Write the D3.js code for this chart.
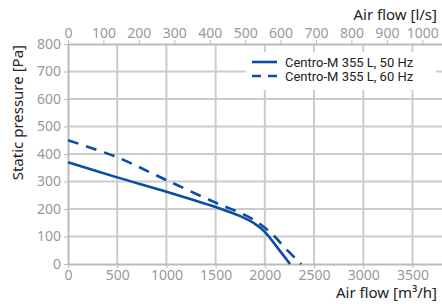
<!DOCTYPE html>
<html>
<head>
<meta charset="utf-8">
<script src="https://cdn.jsdelivr.net/npm/d3@7"></script>
<style>
  body { margin: 0; background: #fff; }
  text { font-family: "Noto Sans", sans-serif; }
</style>
</head>
<body>
<svg id="chart" width="442" height="304"></svg>
<script>
// values
var flowTicks = [0, 500, 1000, 1500, 2000, 2500, 3000, 3500];
var lsTicks = [0, 100, 200, 300, 400, 500, 600, 700, 800, 900, 1000];
var pressureTicks = [0, 100, 200, 300, 400, 500, 600, 700, 800];
var seriesNames = ["Centro-M 355 L, 50 Hz", "Centro-M 355 L, 60 Hz"];
var flow50 = [0, 500, 1000, 1500, 1750, 1900, 2000, 2120, 2256];
var press50 = [370, 315, 263, 207, 174, 146, 117, 63, 0];
var flow60 = [0, 500, 1000, 1500, 1800, 1900, 2000, 2100, 2220, 2370];
var press60 = [450, 388, 305, 223, 178, 158, 132, 100, 53, 0];

var svg = d3.select("#chart");
var pLeft = 68, pRight = 442, pTop = 44, pBottom = 264;
var x = d3.scaleLinear().domain([0, 3800]).range([pLeft, pRight]);
var y = d3.scaleLinear().domain([0, 800]).range([pBottom, pTop]);
var xls = d3.scaleLinear().domain([0, 3800 / 3.6]).range([pLeft, pRight]);

var gridCol = "#cccccc", axisCol = "#bbbbbb", labCol = "#999999";

// grid
svg.append("g").selectAll("line").data(flowTicks.slice(1)).enter().append("line")
  .attr("x1", d => x(d)).attr("x2", d => x(d)).attr("y1", pTop).attr("y2", pBottom)
  .attr("stroke", gridCol).attr("stroke-width", 2);
svg.append("g").selectAll("line").data(pressureTicks.slice(1, -1)).enter().append("line")
  .attr("x1", pLeft).attr("x2", pRight).attr("y1", d => y(d)).attr("y2", d => y(d))
  .attr("stroke", gridCol).attr("stroke-width", 2);

function styleAxis(g) {
  g.select(".domain").attr("stroke", axisCol).attr("stroke-width", 2);
  g.selectAll(".tick line").attr("stroke", axisCol).attr("stroke-width", 1);
  g.selectAll(".tick text").attr("fill", labCol).style("font-size", "14px")
    .style("font-family", "Noto Sans");
}

svg.append("g").attr("transform", "translate(0," + pBottom + ")")
  .call(d3.axisBottom(x).tickValues(flowTicks).tickFormat(d3.format("d"))
    .tickSize(4).tickSizeOuter(0).tickPadding(2))
  .call(styleAxis);
svg.append("g").attr("transform", "translate(0," + pTop + ")")
  .call(d3.axisTop(xls).tickValues(lsTicks).tickFormat(d3.format("d"))
    .tickSize(4).tickSizeOuter(0).tickPadding(2))
  .call(styleAxis);
svg.append("g").attr("transform", "translate(" + pLeft + ",0)")
  .call(d3.axisLeft(y).tickValues(pressureTicks).tickFormat(d3.format("d"))
    .tickSize(4).tickSizeOuter(0).tickPadding(3))
  .call(styleAxis);

// curves
var blue = "#0a4da2";
var pts50 = flow50.map((f, i) => [f, press50[i]]);
var pts60 = flow60.map((f, i) => [f, press60[i]]);
var lineC = d3.line().x(d => x(d[0])).y(d => y(d[1])).curve(d3.curveCatmullRom.alpha(0.5));
svg.append("path").attr("d", lineC(pts60)).attr("fill", "none")
  .attr("stroke", blue).attr("stroke-width", 2.6).attr("stroke-dasharray", "11,8");
svg.append("path").attr("d", lineC(pts50)).attr("fill", "none")
  .attr("stroke", blue).attr("stroke-width", 2.6);

// legend
var lg = svg.append("g");
lg.append("rect").attr("x", 246).attr("y", 52).attr("width", 190).attr("height", 38).attr("fill", "#fff");
seriesNames.forEach(function(n, i) {
  var yy = 62 + i * 14;
  lg.append("line").attr("x1", 252).attr("x2", 277).attr("y1", yy).attr("y2", yy)
    .attr("stroke", blue).attr("stroke-width", 2.6).attr("stroke-dasharray", i ? "9,7" : null);
  lg.append("text").attr("x", 285).attr("y", yy).attr("dy", "0.35em")
    .style("font-family", "Roboto").style("font-size", "13px").attr("fill", "#222").text(n);
});

// titles
svg.append("text").attr("x", 437).attr("y", 20).attr("text-anchor", "end")
  .style("font-size", "15px").attr("fill", "#222").text("Air flow [l/s]");
svg.append("text").attr("x", 437).attr("y", 298).attr("text-anchor", "end")
  .style("font-size", "15px").attr("fill", "#222").text("Air flow [m³/h]");
svg.append("text").attr("transform", "translate(23,45) rotate(-90)").attr("text-anchor", "end")
  .style("font-size", "15px").attr("fill", "#222").text("Static pressure [Pa]");
</script>
</body>
</html>
